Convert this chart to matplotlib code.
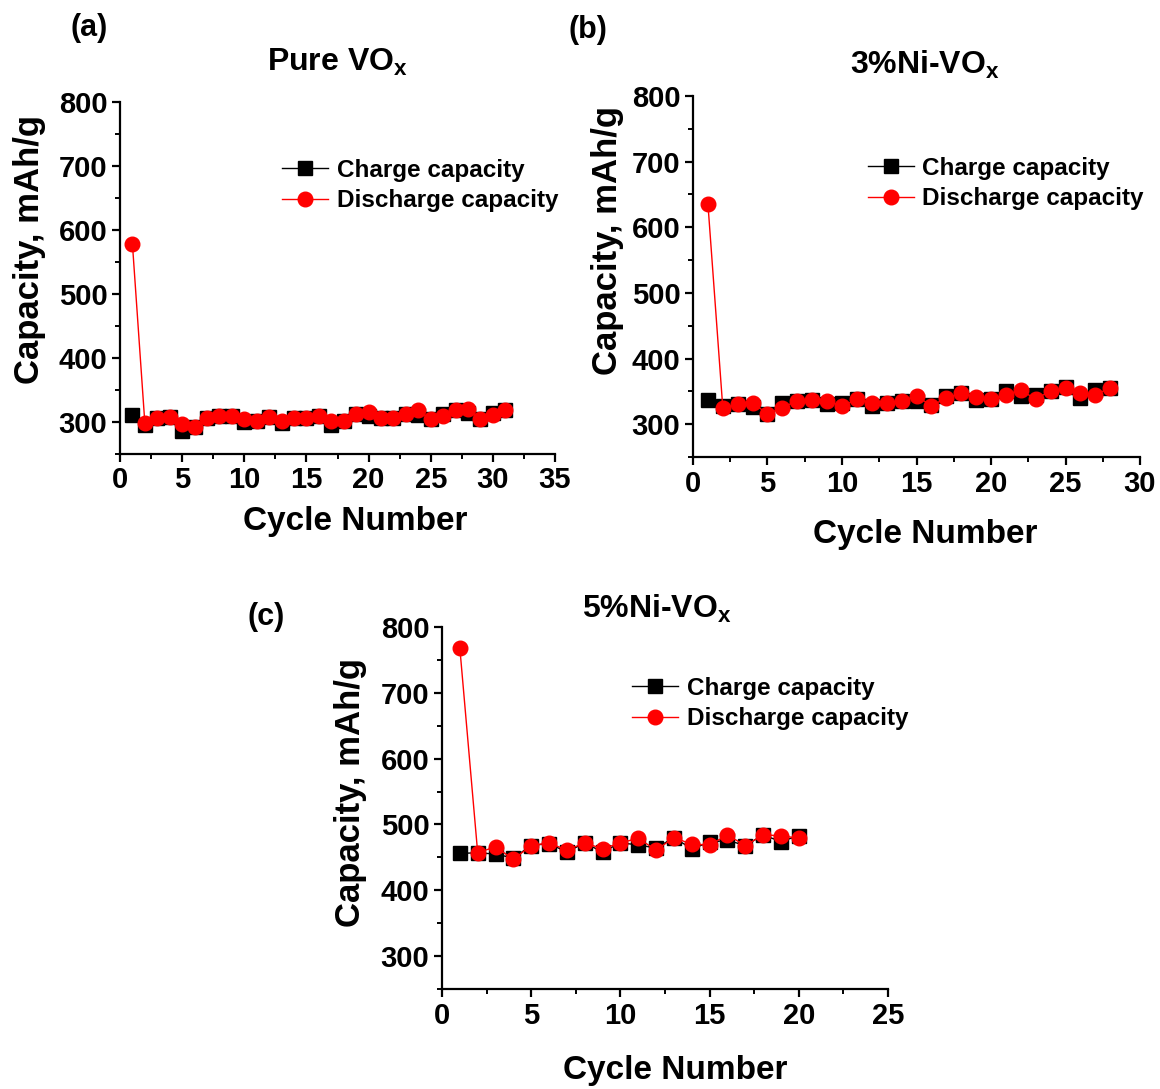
import matplotlib
matplotlib.use("Agg")
import matplotlib.pyplot as plt
from matplotlib.ticker import MultipleLocator

plt.rcParams['font.family'] = ['Liberation Sans', 'DejaVu Sans']
plt.rcParams['font.weight'] = 'bold'
plt.rcParams['mathtext.fontset'] = 'custom'
plt.rcParams['mathtext.bf'] = 'Liberation Sans:bold'
plt.rcParams['mathtext.rm'] = 'Liberation Sans:bold'

# ---- data ----
cycles_a = list(range(1, 32))
charge_a = [311, 295, 307, 308, 286, 292, 306, 309, 309, 300, 301, 308, 299, 306, 306,
            310, 296, 302, 312, 309, 306, 307, 313, 311, 304, 312, 319, 314, 304, 314, 318]
discharge_a = [578, 298, 307, 308, 297, 292, 306, 309, 309, 304, 301, 308, 302, 306, 306,
               310, 301, 302, 312, 315, 306, 307, 313, 318, 304, 310, 319, 321, 304, 311, 318]

cycles_b = list(range(1, 29))
charge_b = [337, 328, 330, 326, 315, 332, 336, 337, 330, 332, 338, 328, 332, 336, 335,
            329, 343, 347, 337, 338, 350, 343, 345, 351, 357, 340, 352, 355]
discharge_b = [636, 325, 330, 332, 316, 325, 336, 337, 336, 327, 338, 333, 332, 336, 343,
               328, 340, 347, 341, 338, 345, 352, 338, 351, 355, 347, 345, 355]

cycles_c = list(range(1, 21))
charge_c = [456, 457, 455, 449, 468, 471, 458, 472, 458, 472, 469, 464, 480, 463, 473,
            476, 468, 484, 474, 483]
discharge_c = [768, 457, 466, 447, 468, 472, 461, 472, 463, 472, 479, 461, 480, 470, 469,
               484, 468, 484, 483, 479]

panels = [
    dict(letter='(a)', title=r'Pure VO$_\mathbf{x}$', x=cycles_a, ch=charge_a, dis=discharge_a,
         xmax=35, rect=(120, 454, 555, 102), letter_xy=(89, 28), title_xy=(337, 62),
         ylab=(-0.207, 0.58), xlab=(0.54, -0.193), leg=(0.372, 0.763)),
    dict(letter='(b)', title=r'3%Ni-VO$_\mathbf{x}$', x=cycles_b, ch=charge_b, dis=discharge_b,
         xmax=30, rect=(693, 457, 1140, 96), letter_xy=(588, 30), title_xy=(925, 65),
         ylab=(-0.192, 0.60), xlab=(0.52, -0.216), leg=(0.391, 0.758)),
    dict(letter='(c)', title=r'5%Ni-VO$_\mathbf{x}$', x=cycles_c, ch=charge_c, dis=discharge_c,
         xmax=25, rect=(442, 989, 888, 627), letter_xy=(266, 617), title_xy=(657, 609),
         ylab=(-0.206, 0.544), xlab=(0.522, -0.224), leg=(0.426, 0.789)),
]

W, H = 1160, 1089
fig = plt.figure(figsize=(W / 100, H / 100), dpi=100)

for p in panels:
    l, b, r, t = p['rect']
    ax = fig.add_axes([l / W, 1 - b / H, (r - l) / W, (b - t) / H])
    ax.plot(p['x'], p['ch'], color='black', marker='s', markersize=9.5, lw=1.0,
            label='Charge capacity', zorder=3)
    ax.plot(p['x'], p['dis'], color='red', marker='o', markersize=10.5, lw=1.0,
            label='Discharge capacity', zorder=4)
    ax.set_xlim(0, p['xmax'])
    ax.set_ylim(250, 800)
    ax.xaxis.set_major_locator(MultipleLocator(5))
    ax.xaxis.set_minor_locator(MultipleLocator(2.5))
    ax.yaxis.set_major_locator(MultipleLocator(100))
    ax.yaxis.set_minor_locator(MultipleLocator(50))
    for s in ('top', 'right'):
        ax.spines[s].set_visible(False)
    for s in ('left', 'bottom'):
        ax.spines[s].set_linewidth(1.6)
    ax.tick_params(which='major', direction='out', length=6, width=1.6, labelsize=21, pad=3)
    ax.tick_params(which='minor', direction='out', length=3.5, width=1.4)
    ax.set_xlabel('Cycle Number', fontsize=24, fontweight='bold')
    ax.set_ylabel('Capacity, mAh/g', fontsize=25, fontweight='bold')
    ax.xaxis.set_label_coords(*p['xlab'])
    ax.xaxis.label.set_va('center')
    ax.yaxis.set_label_coords(*p['ylab'])
    ax.yaxis.label.set_va('center')
    ax.legend(loc='center left', bbox_to_anchor=p['leg'], frameon=False,
              borderpad=0, borderaxespad=0, handlelength=1.9, handletextpad=0.35,
              labelspacing=0.3, prop={'weight': 'bold', 'size': 17.5})
    fig.text(p['letter_xy'][0] / W, 1 - p['letter_xy'][1] / H, p['letter'],
             fontsize=22, fontweight='bold', ha='center', va='center')
    fig.text(p['title_xy'][0] / W, 1 - p['title_xy'][1] / H, p['title'],
             fontsize=23, fontweight='bold', ha='center', va='center')

fig.savefig('out.png', dpi=100, facecolor='white')
